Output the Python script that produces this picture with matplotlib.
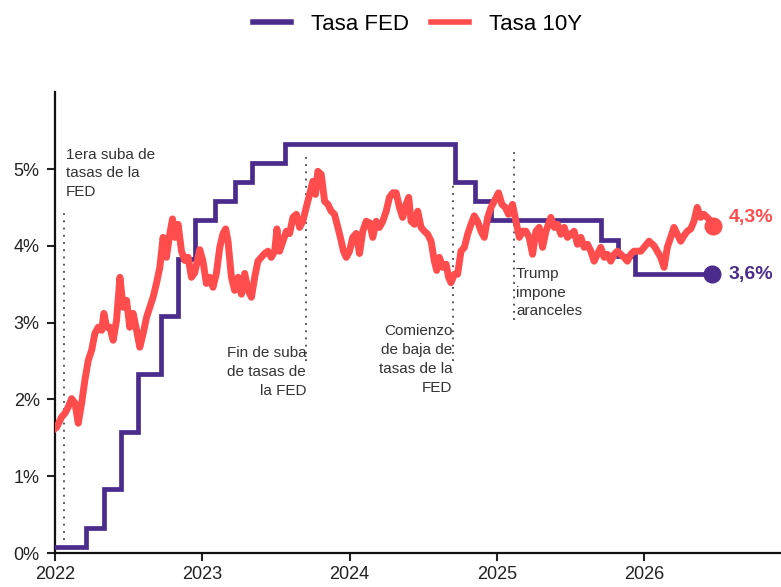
import matplotlib.pyplot as plt
import numpy as np

plt.rcParams['font.family'] = ['Liberation Sans', 'DejaVu Sans']

# Tasa FED (efectiva) - escalones, x en años decimales
fed_t = [2022.0, 2022.21, 2022.33, 2022.45, 2022.565, 2022.72, 2022.835, 2022.95,
         2023.085, 2023.22, 2023.335, 2023.565, 2024.715, 2024.85, 2024.96,
         2025.71, 2025.825, 2025.94, 2026.463]
fed_v = [0.08, 0.33, 0.83, 1.58, 2.33, 3.08, 3.83, 4.33,
         4.58, 4.83, 5.08, 5.33, 4.83, 4.58, 4.33,
         4.08, 3.87, 3.63, 3.63]

# Tasa 10Y
t10 = [0.000, 0.012, 0.045, 0.068, 0.090, 0.113, 0.136, 0.158, 0.181, 0.203,
       0.226, 0.249, 0.271, 0.294, 0.317, 0.332, 0.351, 0.373, 0.395, 0.418,
       0.441, 0.463, 0.486, 0.508, 0.531, 0.554, 0.576, 0.599, 0.622, 0.644,
       0.666, 0.689, 0.712, 0.734, 0.757, 0.780, 0.798, 0.814, 0.836, 0.859,
       0.881, 0.904, 0.927, 0.949, 0.983, 1.005, 1.028, 1.051, 1.073, 1.096,
       1.119, 1.141, 1.159, 1.175, 1.198, 1.220, 1.243, 1.266, 1.288, 1.311,
       1.334, 1.356, 1.378, 1.401, 1.424, 1.446, 1.469, 1.492, 1.507, 1.525,
       1.548, 1.571, 1.593, 1.616, 1.639, 1.661, 1.683, 1.706, 1.729, 1.751,
       1.769, 1.785, 1.808, 1.831, 1.853, 1.876, 1.898, 1.921, 1.944, 1.959,
       1.978, 2.000, 2.022, 2.045, 2.068, 2.090, 2.113, 2.136, 2.158, 2.181,
       2.203, 2.226, 2.249, 2.271, 2.294, 2.317, 2.339, 2.361, 2.384, 2.402,
       2.418, 2.441, 2.463, 2.486, 2.508, 2.531, 2.554, 2.576, 2.592, 2.610,
       2.633, 2.656, 2.673, 2.689, 2.712, 2.734, 2.757, 2.780, 2.802, 2.825,
       2.847, 2.869, 2.893, 2.915, 2.938, 2.961, 2.983, 3.012, 3.035, 3.058,
       3.080, 3.107, 3.130, 3.153, 3.175, 3.198, 3.220, 3.243, 3.266, 3.288,
       3.311, 3.334, 3.367, 3.390, 3.412, 3.435, 3.458, 3.480, 3.503, 3.525,
       3.548, 3.571, 3.593, 3.616, 3.639, 3.661, 3.683, 3.706, 3.729, 3.751,
       3.774, 3.797, 3.819, 3.842, 3.864, 3.887, 3.910, 3.932, 3.955, 3.978,
       4.000, 4.034, 4.068, 4.090, 4.113, 4.136, 4.158, 4.181, 4.203, 4.226,
       4.249, 4.271, 4.294, 4.317, 4.339, 4.361, 4.384, 4.407, 4.429, 4.452,
       4.466]
v10 = [1.62, 1.64, 1.77, 1.82, 1.90, 2.01, 1.95, 1.69, 1.95, 2.25,
       2.51, 2.64, 2.86, 2.94, 2.90, 3.12, 2.94, 2.94, 2.77, 3.03,
       3.59, 3.20, 3.29, 2.94, 3.12, 2.90, 2.68, 2.86, 3.07, 3.20,
       3.33, 3.51, 3.72, 4.11, 3.85, 4.16, 4.35, 4.11, 4.28, 3.93,
       3.81, 3.85, 3.59, 3.65, 3.95, 3.80, 3.51, 3.59, 3.46, 3.64,
       3.98, 4.16, 4.22, 4.06, 3.59, 3.42, 3.59, 3.37, 3.64, 3.42,
       3.33, 3.59, 3.80, 3.85, 3.90, 3.93, 3.85, 3.93, 4.22, 3.93,
       4.06, 4.19, 4.16, 4.37, 4.41, 4.24, 4.32, 4.50, 4.67, 4.84,
       4.67, 4.97, 4.93, 4.58, 4.54, 4.45, 4.41, 4.24, 4.06, 3.93,
       3.85, 3.93, 4.11, 4.16, 3.90, 4.19, 4.32, 4.30, 4.11, 4.32,
       4.24, 4.32, 4.45, 4.63, 4.69, 4.69, 4.50, 4.37, 4.54, 4.63,
       4.32, 4.28, 4.45, 4.24, 4.19, 4.15, 4.06, 3.80, 3.68, 3.85,
       3.72, 3.76, 3.59, 3.52, 3.63, 3.63, 3.93, 3.98, 4.15, 4.28,
       4.39, 4.32, 4.19, 4.11, 4.37, 4.50, 4.58, 4.69, 4.54, 4.50,
       4.41, 4.54, 4.32, 4.11, 4.19, 4.19, 4.11, 3.89, 4.19, 4.24,
       3.98, 4.19, 4.37, 4.24, 4.28, 4.15, 4.24, 4.11, 4.15, 4.19,
       4.02, 4.11, 3.98, 4.02, 3.93, 3.80, 3.89, 3.98, 3.85, 3.89,
       3.80, 3.89, 3.93, 3.89, 3.85, 3.80, 3.89, 3.93, 3.93, 3.93,
       3.98, 4.06, 4.00, 3.93, 3.85, 3.72, 3.98, 4.11, 4.24, 4.15,
       4.06, 4.13, 4.19, 4.22, 4.32, 4.50, 4.37, 4.41, 4.37, 4.32,
       4.26]
t10 = [2022 + t for t in t10]

# Eventos: (x, texto, alineación, y del texto, y0 y1 de la línea punteada)
events = [
    (2022.063, "1era suba de\ntasas de la\nFED", 'left', 5.28, 0.17, 4.49),
    (2023.706, "Fin de suba\nde tasas de\nla FED", 'right', 2.70, 2.50, 5.19),
    (2024.70, "Comienzo\nde baja de\ntasas de la\nFED", 'right', 2.98, 2.50, 4.84),
    (2025.12, "Trump\nimpone\naranceles", 'left', 3.73, 3.03, 5.23),
]

purple = '#4b2c8c'
red = '#ff4d4d'

fig = plt.figure(figsize=(7.81, 5.87), dpi=100)
ax = fig.add_axes([0.0704, 0.0579, 0.9296, 0.785])

ax.step(fed_t, fed_v, where='post', color=purple, lw=3.4, solid_joinstyle='miter',
        label='Tasa FED', zorder=3)
ax.plot(t10, v10, color=red, lw=5.0, solid_joinstyle='round', label='Tasa 10Y', zorder=4)
ax.plot(fed_t[-1], fed_v[-1], 'o', color=purple, ms=12, zorder=5)
ax.plot(t10[-1], v10[-1], 'o', color=red, ms=12, zorder=5)

ax.text(fed_t[-1] + 0.11, fed_v[-1], "3,6%", color=purple, fontsize=14,
        fontweight='bold', va='center', ha='left')
ax.text(t10[-1] + 0.11, 4.37, "4,3%", color=red, fontsize=14,
        fontweight='bold', va='center', ha='left')

for x, txt, ha, ytxt, y0, y1 in events:
    ax.plot([x, x], [y0, y1], color='#444444', lw=1.3, ls=(0, (1, 3)), zorder=2)
    dx = 0.01 if ha == 'left' else 0.0
    ax.text(x + dx, ytxt, txt, ha=ha, va='top', fontsize=11, color='#333333',
            linespacing=1.45, zorder=6)

ax.set_xlim(2022, 2026.93)
ax.set_ylim(0, 6)
ax.set_xticks([2022, 2023, 2024, 2025, 2026])
ax.set_xticklabels(['2022', '2023', '2024', '2025', '2026'])
ax.set_yticks([0, 1, 2, 3, 4, 5])
ax.set_yticklabels([f"{v}%" for v in range(6)])
ax.tick_params(axis='both', labelsize=13, colors='#222222', width=1.5, length=6)
ax.tick_params(axis='x', pad=3, labelsize=13)
ax.tick_params(axis='y', pad=5)
for s in ['top', 'right']:
    ax.spines[s].set_visible(False)
for s in ['left', 'bottom']:
    ax.spines[s].set_linewidth(1.6)
    ax.spines[s].set_color('#111111')

handles, labels = ax.get_legend_handles_labels()
leg = fig.legend(handles, labels, loc='center', bbox_to_anchor=(0.535, 0.959), ncol=2,
                 frameon=False, fontsize=16, handlelength=1.7, handletextpad=0.9,
                 columnspacing=1.0)
for line in leg.get_lines():
    line.set_linewidth(4)

plt.savefig('out.png', dpi=100)
